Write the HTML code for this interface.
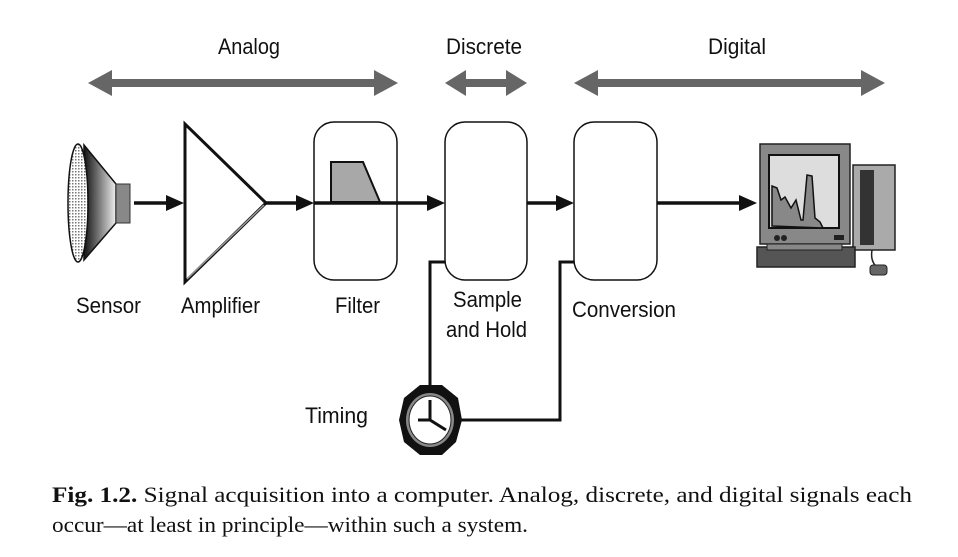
<!DOCTYPE html>
<html><head><meta charset="utf-8"><style>
html,body{margin:0;padding:0;background:#fff}
svg{display:block}
.s{font-family:"Liberation Sans",Arial,sans-serif;font-size:22px;fill:#111}
.c{font-family:"Liberation Serif","Times New Roman",serif;font-size:22px;fill:#111}
</style></head><body>
<svg width="958" height="557" viewBox="0 0 958 557" xmlns="http://www.w3.org/2000/svg">
<defs>
<linearGradient id="cone" x1="0" x2="1"><stop offset="0" stop-color="#111"/><stop offset="1" stop-color="#eee"/></linearGradient>
<pattern id="mesh" width="3" height="3" patternUnits="userSpaceOnUse"><rect width="3" height="3" fill="#fff"/><rect width="1.5" height="1.5" fill="#777"/></pattern>
</defs>
<text class="s" x="218" y="54" textLength="62" lengthAdjust="spacingAndGlyphs">Analog</text>
<text class="s" x="446" y="54" textLength="76" lengthAdjust="spacingAndGlyphs">Discrete</text>
<text class="s" x="708" y="54" textLength="58" lengthAdjust="spacingAndGlyphs">Digital</text>
<g fill="#666">
<polygon points="88,83 112,70 112,79 374,79 374,70 398,83 374,96 374,87 112,87 112,96"/>
<polygon points="445,83 466,70 466,79 506,79 506,70 527,83 506,96 506,87 466,87 466,96"/>
<polygon points="574,83 598,70 598,79 861,79 861,70 885,83 861,96 861,87 598,87 598,96"/>
</g>
<polygon points="84,145 116,184 116,223 84,260" fill="url(#cone)" stroke="#111" stroke-width="1.5"/>
<ellipse cx="78" cy="203" rx="10" ry="59" fill="url(#mesh)" stroke="#111" stroke-width="1.5"/>
<rect x="116" y="184" width="14" height="39" fill="#888" stroke="#333" stroke-width="1"/>
<g stroke="#111" stroke-width="3.5" fill="none">
<line x1="134" y1="203" x2="170" y2="203"/>
<line x1="266" y1="203" x2="300" y2="203"/>
<line x1="527" y1="203" x2="560" y2="203"/>
<line x1="657" y1="203" x2="742" y2="203"/>
</g>
<g fill="#111">
<polygon points="184,203 166,195 166,211"/>
<polygon points="314,203 296,195 296,211"/>
<polygon points="445,203 427,195 427,211"/>
<polygon points="574,203 556,195 556,211"/>
<polygon points="757,203 739,195 739,211"/>
</g>
<polygon points="185,124 185,282 266,203" fill="#fff" stroke="#111" stroke-width="3"/>
<line x1="187" y1="279" x2="264" y2="205" stroke="#999" stroke-width="1.5"/>
<rect x="314" y="122" width="83" height="158" rx="20" fill="none" stroke="#111" stroke-width="1.5"/>
<polygon points="331,162 363,162 380,202 331,202" fill="#a8a8a8" stroke="#111" stroke-width="2"/>
<line x1="314" y1="203" x2="430" y2="203" stroke="#111" stroke-width="3.5"/>
<rect x="445" y="122" width="82" height="158" rx="20" fill="#fff" stroke="#111" stroke-width="1.5"/>
<rect x="574" y="122" width="83" height="158" rx="20" fill="#fff" stroke="#111" stroke-width="1.5"/>
<g stroke="#111" stroke-width="3" fill="none">
<polyline points="445,262 430,262 430,386"/>
<polyline points="458,420 560,420 560,262 574,262"/>
</g>
<polygon points="420,385 442,385 458,398 462,420 456,442 442,455 420,455 404,442 399,420 404,398" fill="#111"/>
<ellipse cx="430" cy="420" rx="24" ry="27" fill="#888"/>
<ellipse cx="430" cy="420" rx="21" ry="24" fill="#fff" stroke="#222" stroke-width="1"/>
<g stroke="#111" stroke-width="3"><line x1="430" y1="420" x2="430" y2="400"/><line x1="430" y1="420" x2="446" y2="430"/><line x1="430" y1="420" x2="418" y2="420"/></g>
<rect x="760" y="144" width="90" height="100" fill="#888" stroke="#222" stroke-width="1.5"/>
<rect x="769" y="155" width="70" height="73" fill="#ddd" stroke="#111" stroke-width="2"/>
<polygon points="772,226 772,186 777,188 781,200 785,197 791,208 796,200 801,220 803,220 807,175 812,176 815,218 820,222 823,228" fill="#888" stroke="#111" stroke-width="1.5"/>
<circle cx="777" cy="238" r="3" fill="#222"/><circle cx="784" cy="238" r="3" fill="#222"/>
<rect x="834" y="235" width="10" height="5" fill="#222"/>
<rect x="853" y="165" width="42" height="85" fill="#aaa" stroke="#222" stroke-width="1.5"/>
<rect x="860" y="170" width="14" height="75" fill="#333"/>
<rect x="757" y="247" width="98" height="20" fill="#555" stroke="#222" stroke-width="1.5"/>
<rect x="767" y="244" width="75" height="6" fill="#888" stroke="#222"/>
<path d="M872,250 q-2,12 6,18" stroke="#222" stroke-width="1.5" fill="none"/>
<rect x="870" y="265" width="17" height="10" rx="3" fill="#666" stroke="#222"/>
<text class="s" x="76" y="313" textLength="65" lengthAdjust="spacingAndGlyphs">Sensor</text>
<text class="s" x="181" y="313" textLength="79" lengthAdjust="spacingAndGlyphs">Amplifier</text>
<text class="s" x="335" y="313" textLength="45" lengthAdjust="spacingAndGlyphs">Filter</text>
<text class="s" x="453" y="307" textLength="69" lengthAdjust="spacingAndGlyphs">Sample</text>
<text class="s" x="446" y="337" textLength="81" lengthAdjust="spacingAndGlyphs">and Hold</text>
<text class="s" x="572" y="317" textLength="104" lengthAdjust="spacingAndGlyphs">Conversion</text>
<text class="s" x="305" y="423" textLength="63" lengthAdjust="spacingAndGlyphs">Timing</text>
<text class="c" x="52" y="502" textLength="860" lengthAdjust="spacingAndGlyphs"><tspan font-weight="bold">Fig. 1.2.</tspan> Signal acquisition into a computer. Analog, discrete, and digital signals each</text>
<text class="c" x="52" y="532" textLength="476" lengthAdjust="spacingAndGlyphs">occur—at least in principle—within such a system.</text>
</svg>
</body></html>
